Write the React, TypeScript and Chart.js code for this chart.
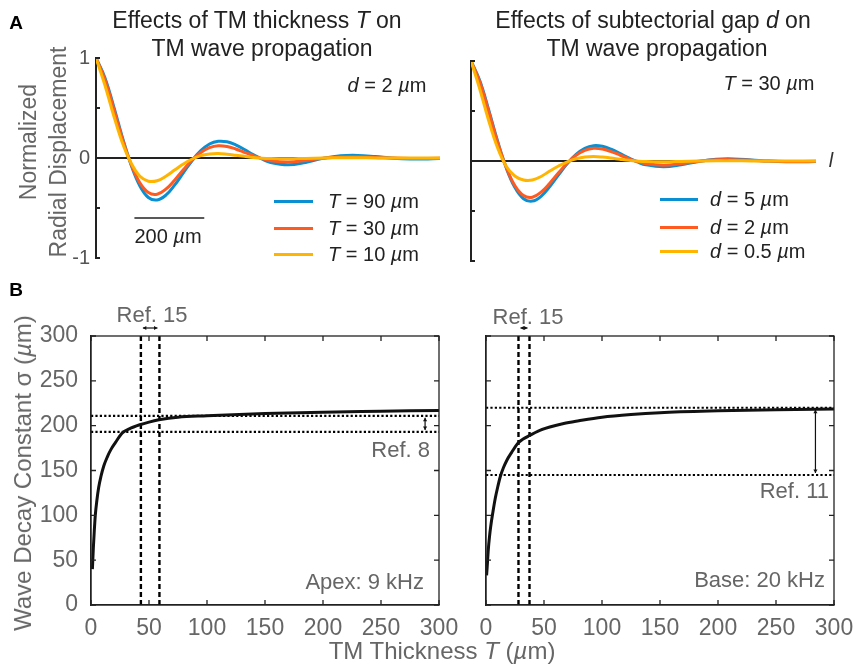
import React, { useEffect, useRef } from 'react';
import { Chart, registerables } from 'chart.js';

Chart.register(...registerables);

const FONT = '"Liberation Sans", Arial, Helvetica, sans-serif';
Chart.defaults.font.family = FONT;

const BLUE = '#0A8FD2';
const ORANGE = '#FF5A1F';
const YELLOW = '#FFB400';
const INK = '#222222';
const GREY = '#666666';

// ---------- Panel A: normalized radial displacement along the TM ----------
const positionsUm = [0, 25, 50, 75, 100, 125, 150, 175, 200, 225, 250, 275, 300, 325, 350, 375, 400, 425, 450, 475, 500, 550, 600, 650, 700, 750, 800, 850, 900, 950, 1000];
const dispT90 = [1.0, 0.808, 0.524, 0.214, -0.064, -0.275, -0.395, -0.42, -0.372, -0.272, -0.149, -0.027, 0.073, 0.14, 0.167, 0.162, 0.131, 0.085, 0.034, -0.01, -0.045, -0.068, -0.044, -0.004, 0.022, 0.026, 0.014, -0.002, -0.01, -0.009, -0.004];
const dispT30 = [1.0, 0.79, 0.5, 0.199, -0.058, -0.245, -0.345, -0.362, -0.312, -0.222, -0.118, -0.021, 0.055, 0.103, 0.122, 0.115, 0.09, 0.057, 0.023, -0.006, -0.027, -0.04, -0.025, -0.002, 0.011, 0.012, 0.006, -0.001, -0.004, -0.004, -0.001];
const dispT10 = [1.0, 0.735, 0.433, 0.158, -0.047, -0.18, -0.232, -0.228, -0.183, -0.121, -0.06, -0.01, 0.024, 0.04, 0.044, 0.038, 0.028, 0.017, 0.006, -0.002, -0.006, -0.008, -0.004, 0.0, 0.002, 0.002, 0.001, 0.0, 0.0, 0.0, 0.0];
const dispD5 = [1.0, 0.804, 0.518, 0.21, -0.063, -0.263, -0.377, -0.401, -0.353, -0.256, -0.139, -0.026, 0.066, 0.127, 0.153, 0.147, 0.118, 0.076, 0.031, -0.009, -0.039, -0.058, -0.037, -0.004, 0.018, 0.021, 0.011, -0.001, -0.008, -0.008, -0.003];
const dispD2 = [1.0, 0.79, 0.5, 0.199, -0.058, -0.245, -0.345, -0.362, -0.312, -0.222, -0.118, -0.021, 0.057, 0.107, 0.127, 0.12, 0.094, 0.06, 0.024, -0.006, -0.028, -0.042, -0.026, -0.002, 0.012, 0.013, 0.007, -0.001, -0.004, -0.004, -0.001];
const dispD05 = [1.0, 0.72, 0.41, 0.14, -0.05, -0.15, -0.19, -0.19, -0.155, -0.1, -0.05, -0.008, 0.022, 0.04, 0.045, 0.04, 0.03, 0.018, 0.007, -0.001, -0.006, -0.008, -0.005, -0.001, 0.002, 0.002, 0.001, 0.0, 0.0, 0.0, 0.0];
const positionMaxUm = 985;
const scaleBarStartUm = 110;
const scaleBarLengthUm = 200;
const scaleBarLevel = -0.6;

// ---------- Panel B: wave decay constant vs TM thickness ----------
const apexThickness = [1.2, 2, 2.8, 3.7, 5, 6.6, 8.5, 11, 14, 17, 21, 27, 33, 42, 50, 58.5, 75, 100, 150, 200, 250, 300];
const apexSigma = [40, 63, 82, 100, 116, 131, 143, 155, 165, 173, 181, 192, 196.5, 201, 204, 206.5, 209.5, 211, 213.5, 215, 216, 217];
const baseThickness = [0.5, 1, 2, 3, 4, 6, 8, 10, 12.3, 15, 18, 22, 27.5, 32, 37.5, 45, 55, 67, 80, 100, 125, 150, 200, 250, 300];
const baseSigma = [33, 42, 62, 76, 87, 104, 119, 131, 143, 153, 161.5, 170, 180.5, 185, 189, 194, 198.5, 202.5, 205.5, 209.5, 212.5, 214.5, 216.5, 217.8, 218.5];
const apexRef15Thickness = [43, 59];
const apexRef8Sigma = [193, 211];
const apexRef8ArrowT = 288;
const baseRef15Thickness = [28, 37.5];
const baseRef11Sigma = [145, 220];
const baseRef11ArrowT = 284;

type Area = { left: number; right: number; top: number; bottom: number };
const W = 857;
const H = 666;

function drawDoubleArrow(ctx: CanvasRenderingContext2D, x1: number, y1: number, x2: number, y2: number) {
  const head = 4;
  const ang = Math.atan2(y2 - y1, x2 - x1);
  ctx.save();
  ctx.strokeStyle = '#111';
  ctx.fillStyle = '#111';
  ctx.lineWidth = 1.2;
  ctx.beginPath();
  ctx.moveTo(x1, y1);
  ctx.lineTo(x2, y2);
  ctx.stroke();
  const tip = (x: number, y: number, a: number) => {
    ctx.beginPath();
    ctx.moveTo(x, y);
    ctx.lineTo(x - head * Math.cos(a - 0.55), y - head * Math.sin(a - 0.55));
    ctx.lineTo(x - head * Math.cos(a + 0.55), y - head * Math.sin(a + 0.55));
    ctx.closePath();
    ctx.fill();
  };
  tip(x2, y2, ang);
  tip(x1, y1, ang + Math.PI);
  ctx.restore();
}

function wavePlugin(withScaleBar: boolean) {
  return {
    id: 'waveExtras',
    afterDraw(chart: any) {
      const ctx: CanvasRenderingContext2D = chart.ctx;
      const { left } = chart.chartArea;
      const y = chart.scales.y;
      const x = chart.scales.x;
      ctx.save();
      ctx.strokeStyle = INK;
      ctx.lineWidth = 2;
      y.ticks.forEach((t: any) => {
        const py = y.getPixelForValue(t.value);
        ctx.beginPath();
        ctx.moveTo(left, py);
        ctx.lineTo(left + 4, py);
        ctx.stroke();
      });
      if (withScaleBar) {
        const py = y.getPixelForValue(scaleBarLevel);
        ctx.lineWidth = 1.6;
        ctx.beginPath();
        ctx.moveTo(x.getPixelForValue(scaleBarStartUm), py);
        ctx.lineTo(x.getPixelForValue(scaleBarStartUm + scaleBarLengthUm), py);
        ctx.stroke();
      }
      ctx.restore();
    },
  };
}

function waveConfig(series: { values: number[]; color: string }[], area: Area, showLabels: boolean, withScaleBar: boolean): any {
  const yW = 40;
  return {
    type: 'line',
    data: {
      datasets: series.map((s, i) => ({
        data: positionsUm.map((p, k) => ({ x: p, y: s.values[k] })),
        borderColor: s.color,
        borderWidth: 3,
        pointRadius: 0,
        tension: 0.4,
        order: series.length - i,
      })),
    },
    options: {
      responsive: false,
      animation: false,
      events: [],
      layout: { padding: { left: area.left - yW, right: W - area.right, top: area.top, bottom: H - area.bottom } },
      plugins: { legend: { display: false }, tooltip: { enabled: false }, title: { display: false } },
      scales: {
        x: { type: 'linear', display: false, min: 0, max: positionMaxUm },
        y: {
          type: 'linear',
          min: -1,
          max: 1,
          afterFit: (s: any) => { s.width = yW; },
          ticks: {
            stepSize: 0.5,
            display: showLabels,
            color: '#555',
            padding: 6,
            font: { size: 20 },
            callback: (v: any) => (v === 1 ? '1' : v === 0 ? '0' : v === -1 ? '-1' : ''),
          },
          grid: {
            drawTicks: false,
            lineWidth: 2,
            color: (c: any) => (c.tick && c.tick.value === 0 ? INK : 'rgba(0,0,0,0)'),
          },
          border: { display: true, color: INK, width: 2 },
        },
      },
    },
    plugins: [wavePlugin(withScaleBar)],
  };
}

function decayPlugin(refT: number[], refS: number[], arrowT: number) {
  return {
    id: 'decayExtras',
    afterDraw(chart: any) {
      const ctx: CanvasRenderingContext2D = chart.ctx;
      const { left, right, top, bottom } = chart.chartArea;
      const x = chart.scales.x;
      const y = chart.scales.y;
      ctx.save();
      ctx.strokeStyle = INK;
      ctx.lineWidth = 1.3;
      ctx.strokeRect(left, top, right - left, bottom - top);
      const len = 5;
      x.ticks.forEach((t: any) => {
        const px = x.getPixelForValue(t.value);
        ctx.beginPath();
        ctx.moveTo(px, bottom);
        ctx.lineTo(px, bottom - len);
        ctx.moveTo(px, top);
        ctx.lineTo(px, top + len);
        ctx.stroke();
      });
      y.ticks.forEach((t: any) => {
        const py = y.getPixelForValue(t.value);
        ctx.beginPath();
        ctx.moveTo(left, py);
        ctx.lineTo(left + len, py);
        ctx.moveTo(right, py);
        ctx.lineTo(right - len, py);
        ctx.stroke();
      });
      ctx.restore();
      drawDoubleArrow(ctx, x.getPixelForValue(refT[0]) + 2, top - 8, x.getPixelForValue(refT[1]) - 2, top - 8);
      const ax = x.getPixelForValue(arrowT);
      drawDoubleArrow(ctx, ax, y.getPixelForValue(refS[1]) + 2, ax, y.getPixelForValue(refS[0]) - 2);
    },
  };
}

function decayConfig(ts: number[], ss: number[], refT: number[], refS: number[], arrowT: number, area: Area, showYLabels: boolean): any {
  const yW = 60;
  const xH = 30;
  const datasets: any[] = [
    {
      data: ts.map((t, i) => ({ x: t, y: ss[i] })),
      borderColor: '#111',
      borderWidth: 3,
      pointRadius: 0,
      cubicInterpolationMode: 'monotone',
      order: 0,
    },
  ];
  refT.forEach((t) =>
    datasets.push({
      data: [{ x: t, y: 0 }, { x: t, y: 300 }],
      borderColor: '#000',
      borderWidth: 2.4,
      borderDash: [5, 3],
      pointRadius: 0,
      order: 1,
    })
  );
  refS.forEach((s) =>
    datasets.push({
      data: [{ x: 0, y: s }, { x: 300, y: s }],
      borderColor: '#000',
      borderWidth: 2.2,
      borderDash: [2.2, 2.2],
      pointRadius: 0,
      order: 2,
    })
  );
  return {
    type: 'line',
    data: { datasets },
    options: {
      responsive: false,
      animation: false,
      events: [],
      layout: { padding: { left: area.left - yW, right: W - area.right, top: area.top, bottom: H - area.bottom - xH } },
      plugins: { legend: { display: false }, tooltip: { enabled: false }, title: { display: false } },
      scales: {
        x: {
          type: 'linear',
          min: 0,
          max: 300,
          afterFit: (s: any) => { s.height = xH; },
          ticks: { stepSize: 50, color: GREY, font: { size: 23 }, padding: 2, maxRotation: 0, autoSkip: false },
          grid: { display: false },
          border: { display: true, color: INK, width: 1.3 },
        },
        y: {
          type: 'linear',
          min: 0,
          max: 300,
          afterFit: (s: any) => { s.width = yW; },
          ticks: { stepSize: 50, display: showYLabels, color: GREY, font: { size: 23 }, padding: 5 },
          grid: { display: false },
          border: { display: true, color: INK, width: 1.3 },
        },
      },
    },
    plugins: [decayPlugin(refT, refS, arrowT)],
  };
}

function Txt(props: { x: number; y: number; size: number; color?: string; align?: 'left' | 'center' | 'right'; rot?: number; bold?: boolean; children: any }) {
  const { x, y, size, color = INK, align = 'center', rot = 0, bold = false, children } = props;
  const tx = align === 'center' ? '-50%' : align === 'right' ? '-100%' : '0';
  return (
    <div
      style={{
        position: 'absolute',
        left: x,
        top: y,
        fontSize: size,
        color,
        fontWeight: bold ? 700 : 400,
        whiteSpace: 'nowrap',
        lineHeight: 1,
        transform: `translate(${tx}, -50%) rotate(${rot}deg)`,
      }}
    >
      {children}
    </div>
  );
}

function LegendLine(props: { x1: number; x2: number; y: number; color: string }) {
  return (
    <div style={{ position: 'absolute', left: props.x1, top: props.y - 1.5, width: props.x2 - props.x1, height: 3, background: props.color }} />
  );
}

export default function App() {
  const tlRef = useRef<HTMLCanvasElement>(null);
  const trRef = useRef<HTMLCanvasElement>(null);
  const blRef = useRef<HTMLCanvasElement>(null);
  const brRef = useRef<HTMLCanvasElement>(null);

  useEffect(() => {
    const charts = [
      new Chart(
        tlRef.current as HTMLCanvasElement,
        waveConfig(
          [
            { values: dispT90, color: BLUE },
            { values: dispT30, color: ORANGE },
            { values: dispT10, color: YELLOW },
          ],
          { left: 96, right: 440, top: 58, bottom: 258 },
          true,
          true
        )
      ),
      new Chart(
        trRef.current as HTMLCanvasElement,
        waveConfig(
          [
            { values: dispD5, color: BLUE },
            { values: dispD2, color: ORANGE },
            { values: dispD05, color: YELLOW },
          ],
          { left: 471, right: 816, top: 61, bottom: 261 },
          false,
          false
        )
      ),
      new Chart(
        blRef.current as HTMLCanvasElement,
        decayConfig(apexThickness, apexSigma, apexRef15Thickness, apexRef8Sigma, apexRef8ArrowT, { left: 91, right: 439, top: 336, bottom: 605 }, true)
      ),
      new Chart(
        brRef.current as HTMLCanvasElement,
        decayConfig(baseThickness, baseSigma, baseRef15Thickness, baseRef11Sigma, baseRef11ArrowT, { left: 486, right: 834, top: 336, bottom: 605 }, false)
      ),
    ];
    return () => charts.forEach((c) => c.destroy());
  }, []);

  const cv: React.CSSProperties = { position: 'absolute', left: 0, top: 0, width: W, height: H };

  return (
    <div style={{ position: 'absolute', left: 0, top: 0, width: W, height: H, background: '#fff', fontFamily: FONT, overflow: 'hidden' }}>
      <canvas ref={tlRef} width={W} height={H} style={cv} />
      <canvas ref={trRef} width={W} height={H} style={cv} />
      <canvas ref={blRef} width={W} height={H} style={cv} />
      <canvas ref={brRef} width={W} height={H} style={cv} />

      {/* Panel A */}
      <Txt x={16} y={22} size={19} bold color="#000">A</Txt>
      <Txt x={257} y={20} size={23}>Effects of TM thickness <i>T</i> on</Txt>
      <Txt x={262} y={48} size={23}>TM wave propagation</Txt>
      <Txt x={28} y={142} size={23} color={GREY} rot={-90}>Normalized</Txt>
      <Txt x={58} y={152} size={23} color={GREY} rot={-90}>Radial Displacement</Txt>
      <Txt x={387} y={85} size={20}><i>d</i> = 2 <i>µ</i>m</Txt>
      <Txt x={168} y={236} size={20}>200 <i>µ</i>m</Txt>
      <LegendLine x1={274} x2={313} y={201} color={BLUE} />
      <LegendLine x1={274} x2={313} y={228} color={ORANGE} />
      <LegendLine x1={274} x2={313} y={254} color={YELLOW} />
      <Txt x={328} y={201} size={20} align="left"><i>T</i> = 90 <i>µ</i>m</Txt>
      <Txt x={328} y={228} size={20} align="left"><i>T</i> = 30 <i>µ</i>m</Txt>
      <Txt x={328} y={254} size={20} align="left"><i>T</i> = 10 <i>µ</i>m</Txt>

      <Txt x={653} y={20} size={23}>Effects of subtectorial gap <i>d</i> on</Txt>
      <Txt x={657} y={48} size={23}>TM wave propagation</Txt>
      <Txt x={769} y={83} size={20}><i>T</i> = 30 <i>µ</i>m</Txt>
      <LegendLine x1={660} x2={698} y={199} color={BLUE} />
      <LegendLine x1={660} x2={698} y={227} color={ORANGE} />
      <LegendLine x1={660} x2={698} y={251} color={YELLOW} />
      <Txt x={710} y={199} size={20} align="left"><i>d</i> = 5 <i>µ</i>m</Txt>
      <Txt x={710} y={227} size={20} align="left"><i>d</i> = 2 <i>µ</i>m</Txt>
      <Txt x={710} y={251} size={20} align="left"><i>d</i> = 0.5 <i>µ</i>m</Txt>
      <Txt x={831} y={160} size={20} color="#333"><i>l</i></Txt>

      {/* Panel B */}
      <Txt x={16} y={289} size={19} bold color="#000">B</Txt>
      <Txt x={23} y={473} size={24} color={GREY} rot={-90}>Wave Decay Constant σ (<i>µ</i>m)</Txt>
      <Txt x={442} y={651} size={24} color={GREY}>TM Thickness <i>T</i> (<i>µ</i>m)</Txt>
      <Txt x={152} y={315} size={22} color={GREY}>Ref. 15</Txt>
      <Txt x={430} y={450} size={22} color={GREY} align="right">Ref. 8</Txt>
      <Txt x={424} y={582} size={22} color={GREY} align="right">Apex: 9 kHz</Txt>
      <Txt x={528} y={317} size={22} color={GREY}>Ref. 15</Txt>
      <Txt x={829} y={491} size={22} color={GREY} align="right">Ref. 11</Txt>
      <Txt x={825} y={580} size={22} color={GREY} align="right">Base: 20 kHz</Txt>
    </div>
  );
}
